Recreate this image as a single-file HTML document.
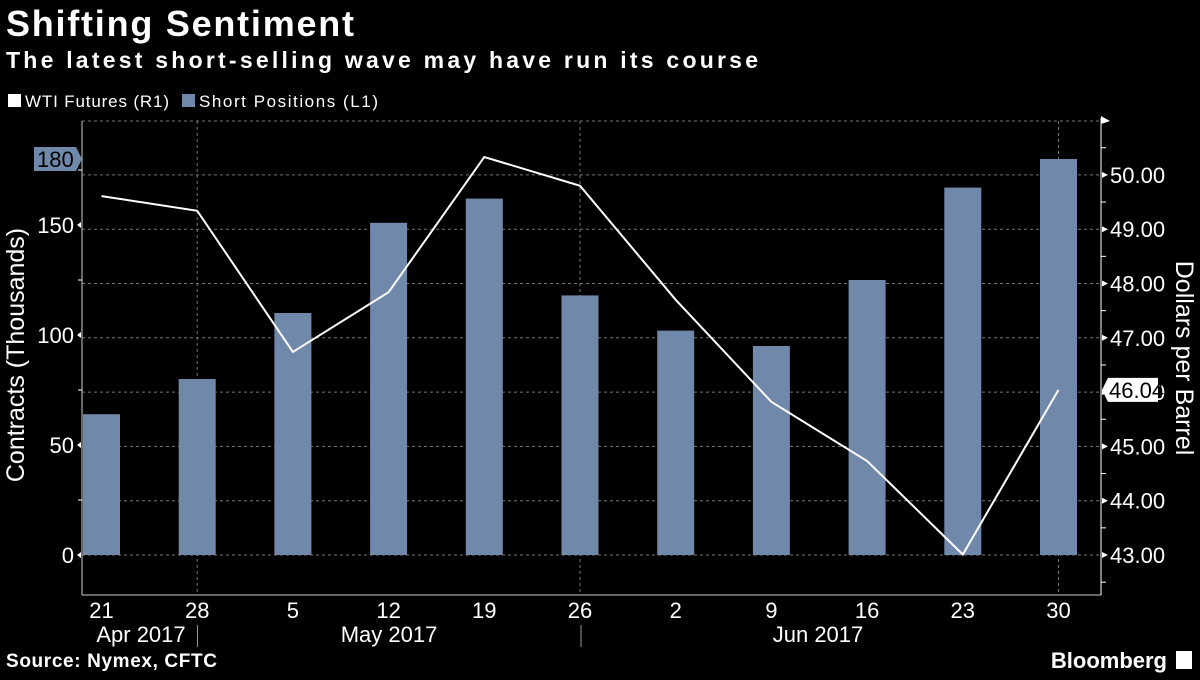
<!DOCTYPE html>
<html><head><meta charset="utf-8"><style>
body{margin:0;background:#000;width:1200px;height:675px;overflow:hidden;font-family:"Liberation Sans",sans-serif;color:#fff}
svg text{font-family:"Liberation Sans",sans-serif;fill:#fff}
</style></head><body>
<svg width="1200" height="675">
<text x="6" y="36" font-size="36" font-weight="bold" textLength="348">Shifting Sentiment</text>
<text x="6" y="68" font-size="23" font-weight="bold" textLength="752">The latest short-selling wave may have run its course</text>
<rect x="8" y="94" width="13" height="13" fill="#fff"/>
<text x="25" y="107" font-size="17" textLength="144">WTI Futures (R1)</text>
<rect x="182" y="94" width="13" height="13" fill="#7088aa"/>
<text x="199" y="107" font-size="17" textLength="179">Short Positions (L1)</text>
<g id="plot"></g>
<text x="6" y="667" font-size="19" font-weight="bold" textLength="211">Source: Nymex, CFTC</text>
<text x="1167" y="668" font-size="22" font-weight="bold" text-anchor="end">Bloomberg</text>
<rect x="1176" y="651" width="16" height="18" fill="#fff"/>
</svg>
<script>
const dates=["21","28","5","12","19","26","2","9","16","23","30"];
const months=[{label:"Apr 2017",x:141},{label:"May 2017",x:389},{label:"Jun 2017",x:818}];
const shorts=[64,80,110,151,162,118,102,95,125,167,180];
const wti=[49.61,49.34,46.74,47.84,50.33,49.80,47.70,45.82,44.73,43.01,46.04];
const leftTicks=[0,50,100,150];
const rightTicks=[43,44,45,46,47,48,49,50];
const NS="http://www.w3.org/2000/svg";
const g=document.getElementById('plot');
const yL=v=>555-v*2.2;
const yR=v=>555-(v-43)*54.3;
const xC=i=>101.5+i*95.7;
function mk(t,a,txt){const e=document.createElementNS(NS,t);for(const k in a)e.setAttribute(k,a[k]);if(txt!==undefined)e.textContent=txt;g.appendChild(e);return e;}
[121].concat(rightTicks.map(yR)).forEach(y=>{const e=mk('line',{x1:82,x2:1101,y1:y,y2:y,stroke:'#777','stroke-dasharray':'3,3','stroke-width':1});

});
[1,5,10].forEach(i=>{const e=mk('line',{x1:xC(i),x2:xC(i),y1:121,y2:595,stroke:'#777','stroke-dasharray':'3,3'});

});
shorts.forEach((v,i)=>{const e=mk('rect',{x:xC(i)-18.5,y:yL(v),width:37,height:555-yL(v),fill:'#7088aa'});

});
const l=mk('polyline',{points:wti.map((v,i)=>xC(i)+','+yR(v)).join(' '),fill:'none',stroke:'#fff','stroke-width':2});


mk('line',{x1:82,x2:82,y1:121,y2:595,stroke:'#ccc'});
mk('line',{x1:82,x2:1101,y1:595,y2:595,stroke:'#ccc'});
mk('line',{x1:1101,x2:1101,y1:118,y2:595,stroke:'#fff'});
mk('polygon',{points:'1101,116 1110,121 1101,124',fill:'#fff'});
leftTicks.forEach(v=>{const y=yL(v);mk('polygon',{points:`77,${y} 81,${y-3} 81,${y+3}`,fill:'#fff'});
const t=mk('text',{x:74,y:y+8,'font-size':22,'text-anchor':'end'},String(v));

});
[25,75,125,175].forEach(v=>mk('line',{x1:78,x2:82,y1:yL(v),y2:yL(v),stroke:'#fff'}));
rightTicks.forEach(v=>{const y=yR(v);mk('polygon',{points:`1102,${y-3} 1108,${y} 1102,${y+3}`,fill:'#fff'});
const t=mk('text',{x:1110,y:y+8,'font-size':22},v.toFixed(2));

});
[42.5,43.5,44.5,45.5,46.5,47.5,48.5,49.5,50.5].forEach(v=>mk('line',{x1:1101,x2:1106,y1:yR(v),y2:yR(v),stroke:'#fff'}));
const ly=yL(shorts[shorts.length-1]);
mk('polygon',{points:`34,${ly-12} 76,${ly-12} 82,${ly} 76,${ly+12} 34,${ly+12}`,fill:'#7088aa'});
mk('text',{x:37,y:ly+8,'font-size':22},String(Math.round(shorts[shorts.length-1]))).setAttribute('style','fill:#000');
const ry=yR(wti[wti.length-1]);
mk('polygon',{points:`1102,${ry} 1108,${ry-12} 1158,${ry-12} 1158,${ry+12} 1108,${ry+12}`,fill:'#fff'});
mk('text',{x:1109,y:ry+8,'font-size':22},wti[wti.length-1].toFixed(2)).setAttribute('style','fill:#000');
dates.forEach((d,i)=>{const t=mk('text',{x:xC(i),y:618,'font-size':22,'text-anchor':'middle'},d);

});
months.forEach(m=>{const t=mk('text',{x:m.x,y:642,'font-size':22,'text-anchor':'middle'},m.label);

});
[197.5,581].forEach(x=>mk('line',{x1:x,x2:x,y1:625,y2:647,stroke:'#999'}));
const a1=mk('text',{x:0,y:0,'font-size':25,'text-anchor':'middle',transform:'translate(24,355) rotate(-90)'},'Contracts (Thousands)');


const a2=mk('text',{x:0,y:0,'font-size':25,'text-anchor':'middle',transform:'translate(1176,358) rotate(90)'},'Dollars per Barrel');


</script>
</body></html>
